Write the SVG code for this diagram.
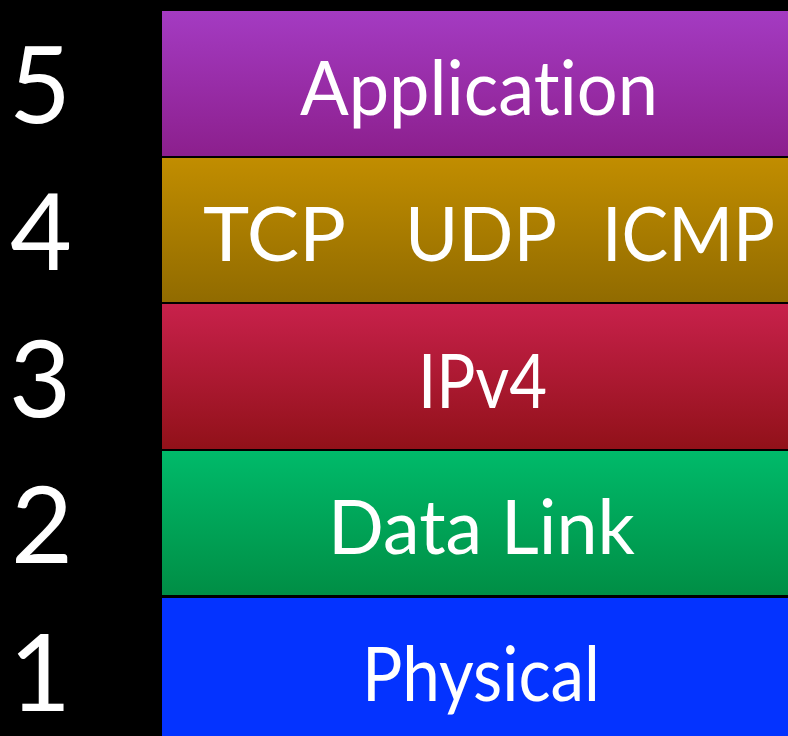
<svg xmlns="http://www.w3.org/2000/svg" width="788" height="736" viewBox="0 0 788 736">
  <defs>
    <linearGradient id="gPurple" x1="0" y1="0" x2="0" y2="1">
      <stop offset="0" stop-color="#A43BC2"/>
      <stop offset="1" stop-color="#8C1F8D"/>
    </linearGradient>
    <linearGradient id="gGold" x1="0" y1="0" x2="0" y2="1">
      <stop offset="0" stop-color="#C18D00"/>
      <stop offset="1" stop-color="#916B00"/>
    </linearGradient>
    <linearGradient id="gRed" x1="0" y1="0" x2="0" y2="1">
      <stop offset="0" stop-color="#C8214B"/>
      <stop offset="1" stop-color="#911119"/>
    </linearGradient>
    <linearGradient id="gGreen" x1="0" y1="0" x2="0" y2="1">
      <stop offset="0" stop-color="#00BA6A"/>
      <stop offset="1" stop-color="#008E45"/>
    </linearGradient>
  </defs>
  <style>
    text { font-variant-ligatures: none; font-feature-settings: "liga" 0, "clig" 0; }
    .num { font-family: Lato, "Open Sans", "Liberation Sans", sans-serif; font-size: 107px; fill: #ffffff; text-anchor: middle; }
    .lbl { font-family: Lato, "Open Sans", "Liberation Sans", sans-serif; font-size: 75px; fill: #ffffff; }
  </style>

  <!-- background -->
  <rect x="0" y="0" width="788" height="736" fill="#000000"/>

  <!-- layer 5 -->
  <g id="layer5">
    <rect x="162" y="11" width="626" height="145" fill="url(#gPurple)"/>
    <text class="num" x="40" y="123">5</text>
    <text class="lbl" x="300" y="115" textLength="358" lengthAdjust="spacingAndGlyphs">Application</text>
  </g>

  <!-- layer 4 -->
  <g id="layer4">
    <rect x="162" y="158" width="626" height="144" fill="url(#gGold)"/>
    <text class="num" x="41" y="270">4</text>
    <text class="lbl" x="203" y="261" textLength="143" lengthAdjust="spacingAndGlyphs">TCP</text>
    <text class="lbl" x="405" y="261" textLength="152" lengthAdjust="spacingAndGlyphs">UDP</text>
    <text class="lbl" x="602" y="261" textLength="173" lengthAdjust="spacingAndGlyphs">ICMP</text>
  </g>

  <!-- layer 3 -->
  <g id="layer3">
    <rect x="162" y="304" width="626" height="145" fill="url(#gRed)"/>
    <text class="num" x="40" y="417">3</text>
    <text class="lbl" x="418" y="408" textLength="129" lengthAdjust="spacingAndGlyphs">IPv4</text>
  </g>

  <!-- layer 2 -->
  <g id="layer2">
    <rect x="162" y="451" width="626" height="144" fill="url(#gGreen)"/>
    <text class="num" x="42" y="563">2</text>
    <text class="lbl" x="328" y="554" textLength="307" lengthAdjust="spacingAndGlyphs">Data Link</text>
  </g>

  <!-- layer 1 -->
  <g id="layer1">
    <rect x="162" y="598" width="626" height="138" fill="#0433FF"/>
    <text class="num" x="40" y="711">1</text>
    <text class="lbl" x="362" y="701" textLength="238" lengthAdjust="spacingAndGlyphs">Physical</text>
  </g>

  <g id="connectors"/>
</svg>
